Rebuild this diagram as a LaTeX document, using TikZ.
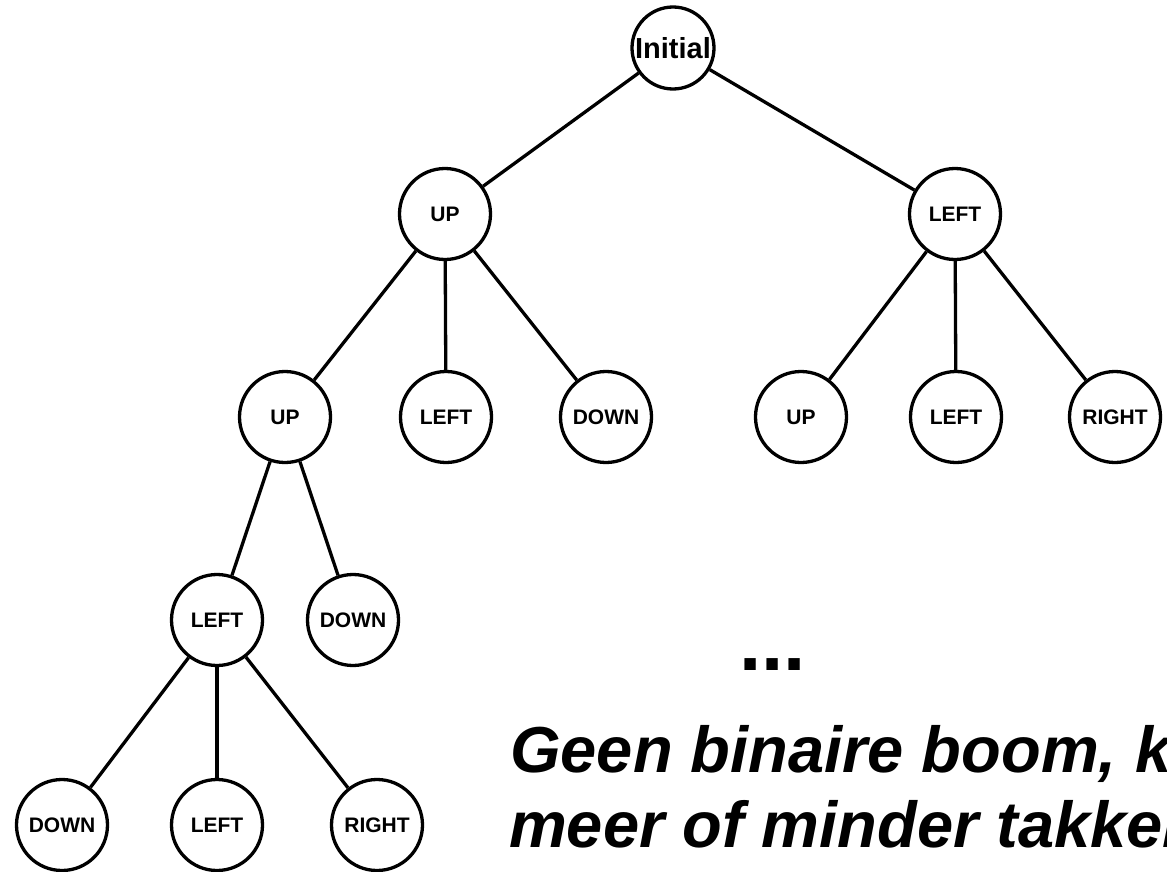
\documentclass[tikz,border=0pt]{standalone}
\usepackage{fontspec}
\setmainfont{Liberation Sans}
\begin{document}
\begin{tikzpicture}[x=1bp,y=-1bp,
  state/.style={circle,draw=black,line width=3.3bp,minimum size=91bp,inner sep=0pt,
    font=\fontsize{21bp}{24bp}\selectfont\bfseries},
  rootstate/.style={state,minimum size=82bp,font=\fontsize{29bp}{32bp}\selectfont\bfseries},
  branch/.style={line width=3.3bp,black},
  remark/.style={anchor=base west,inner sep=0pt,
    font=\fontsize{65bp}{76bp}\selectfont\bfseries\itshape},
  ellipsis/.style={anchor=base west,inner sep=0pt,
    font=\fontsize{80bp}{90bp}\selectfont\bfseries}]
\useasboundingbox (0,0) rectangle (1167,872);
\clip (0,0) rectangle (1167,872);

% level 0
\node[rootstate] (init) at (673,48) {Initial};
% level 1
\node[state] (u) at (445,214) {UP};
\node[state] (l) at (955,214) {LEFT};
% level 2
\node[state] (uu) at (285,417) {UP};
\node[state] (ul) at (446,417) {LEFT};
\node[state] (ud) at (606,417) {DOWN};
\node[state] (lu) at (801,417) {UP};
\node[state] (ll) at (956,417) {LEFT};
\node[state] (lr) at (1115,417) {RIGHT};
% level 3
\node[state] (uul) at (217,620) {LEFT};
\node[state] (uud) at (353,620) {DOWN};
% level 4
\node[state] (uuld) at (62,825) {DOWN};
\node[state] (uull) at (217,825) {LEFT};
\node[state] (uulr) at (377,825) {RIGHT};

\draw[branch] (init) -- (u);
\draw[branch] (init) -- (l);
\draw[branch] (u) -- (uu);
\draw[branch] (u) -- (ul);
\draw[branch] (u) -- (ud);
\draw[branch] (l) -- (lu);
\draw[branch] (l) -- (ll);
\draw[branch] (l) -- (lr);
\draw[branch] (uu) -- (uul);
\draw[branch] (uu) -- (uud);
\draw[branch] (uul) -- (uuld);
\draw[branch] (uul) -- (uull);
\draw[branch] (uul) -- (uulr);

% ellipsis and remark (the remark runs past the right edge)
\node[ellipsis] (dots) at (739,670) {...};
\node[remark] (rem1) at (510,772) {Geen binaire boom, kan};
\node[remark] (rem2) at (509,847) {meer of minder takken};
\end{tikzpicture}
\end{document}
